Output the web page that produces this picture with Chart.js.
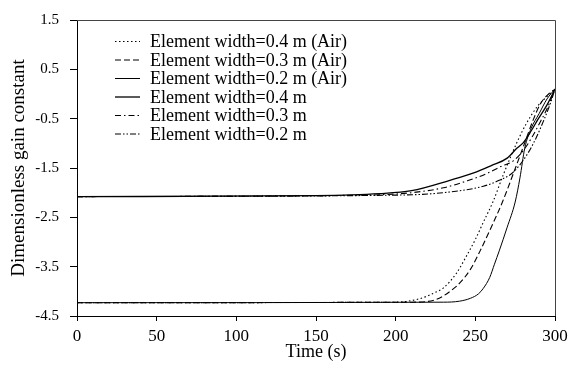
<!DOCTYPE html>
<html>
<head>
<meta charset="utf-8">
<script src="https://cdn.jsdelivr.net/npm/chart.js@4.4.0/dist/chart.umd.min.js"></script>
<style>
  html, body { margin: 0; padding: 0; background: #fff; }
  #wrap { width: 577px; height: 369px; }
</style>
</head>
<body>
<div id="wrap"><canvas id="gainChart" width="577" height="369"></canvas></div>
<script>
Chart.defaults.color = '#000';
Chart.defaults.font.family = '"Liberation Serif", "Times New Roman", serif';
Chart.defaults.font.size = 15;

const xTicks = [0, 50, 100, 150, 200, 250, 300];
const yTicks = [1.5, 0.5, -0.5, -1.5, -2.5, -3.5, -4.5];

const labels = [
    'Element width=0.4 m (Air)',
    'Element width=0.3 m (Air)',
    'Element width=0.2 m (Air)',
    'Element width=0.4 m',
    'Element width=0.3 m',
    'Element width=0.2 m'
];

// 0.4 m (Air) - dotted
const tAir04 = [0, 200, 215, 225, 230, 238, 245, 250, 255, 261, 268, 276, 282, 289, 295, 300];
const vAir04 = [-4.23, -4.22, -4.15, -4.02, -3.93, -3.64, -3.25, -2.95, -2.6, -2.19, -1.6, -0.99, -0.6, -0.25, -0.05, 0.1];

// 0.3 m (Air) - dashed
const tAir03 = [0, 210, 225, 235, 240, 247, 253, 260, 267, 274, 281, 286, 291, 296, 300];
const vAir03 = [-4.23, -4.22, -4.17, -3.98, -3.84, -3.55, -3.18, -2.7, -2.19, -1.6, -0.99, -0.55, -0.19, 0.0, 0.1];

// 0.2 m (Air) - solid
const tAir02 = [0, 230, 240, 247, 252, 255, 259, 262, 265, 270, 275, 278, 281, 285, 290, 295, 300];
const vAir02 = [-4.23, -4.22, -4.2, -4.14, -4.05, -3.94, -3.72, -3.45, -3.18, -2.7, -2.19, -1.7, -1.1, -0.7, -0.4, -0.1, 0.1];

// 0.4 m - solid
const t04 = [0, 150, 190, 210, 234, 249, 260, 270, 276, 280, 285, 289, 295, 300];
const v04 = [-2.08, -2.06, -2.02, -1.96, -1.75, -1.6, -1.45, -1.3, -1.1, -0.99, -0.75, -0.53, -0.22, 0.1];

// 0.3 m - dash-dot
const t03 = [0, 180, 210, 230, 245, 258, 266, 274, 280, 286, 291, 295, 300];
const v03 = [-2.08, -2.05, -2.0, -1.9, -1.76, -1.6, -1.47, -1.35, -1.15, -0.85, -0.55, -0.3, 0.1];

// 0.2 m - dash-dot-dot
const t02 = [0, 200, 230, 255, 265, 274, 283, 288, 293, 297, 300];
const v02 = [-2.08, -2.05, -2.0, -1.87, -1.75, -1.58, -1.2, -0.9, -0.53, -0.2, 0.1];

const toPoints = (ts, vs) => ts.map((t, i) => ({ x: t, y: vs[i] }));

const series = [
    { data: toPoints(tAir04, vAir04), dash: [1.5, 2.5], width: 1.1 },
    { data: toPoints(tAir03, vAir03), dash: [6, 3], width: 1.1 },
    { data: toPoints(tAir02, vAir02), dash: [], width: 1 },
    { data: toPoints(t04, v04), dash: [], width: 1.3 },
    { data: toPoints(t03, v03), dash: [6, 3, 1.5, 3], width: 1.1 },
    { data: toPoints(t02, v02), dash: [6, 2, 1.5, 2, 1.5, 2], width: 1.1 }
];

// legend drawn inside the plot, plus the top/right frame
const frameAndLegend = {
    id: 'frameAndLegend',
    afterDraw(chart) {
        const { ctx, chartArea: a } = chart;
        ctx.save();
        ctx.strokeStyle = '#444';
        ctx.lineWidth = 1;
        ctx.beginPath();
        ctx.moveTo(a.left, a.top + 0.5);
        ctx.lineTo(a.right + 0.5, a.top + 0.5);
        ctx.lineTo(a.right + 0.5, a.bottom);
        ctx.stroke();

        ctx.font = '18px "Liberation Serif", "Times New Roman", serif';
        ctx.textBaseline = 'middle';
        ctx.fillStyle = '#000';
        chart.data.datasets.forEach((ds, i) => {
            const y = 41.5 + i * 18.5;
            ctx.strokeStyle = '#000';
            ctx.lineWidth = ds.borderWidth;
            ctx.setLineDash(ds.borderDash);
            ctx.beginPath();
            ctx.moveTo(115, y);
            ctx.lineTo(140, y);
            ctx.stroke();
            ctx.setLineDash([]);
            ctx.fillText(ds.label, 150, y + 1);
        });
        ctx.restore();
    }
};

new Chart(document.getElementById('gainChart'), {
    type: 'line',
    data: {
        datasets: series.map((s, i) => ({
            label: labels[i],
            data: s.data,
            borderColor: '#000',
            borderWidth: s.width,
            borderDash: s.dash,
            pointRadius: 0,
            fill: false,
            cubicInterpolationMode: 'monotone'
        }))
    },
    options: {
        responsive: false,
        animation: false,
        layout: { padding: { left: 8, right: 22, top: 15, bottom: 0 } },
        plugins: {
            legend: { display: false },
            tooltip: { enabled: false }
        },
        scales: {
            x: {
                type: 'linear',
                min: xTicks[0],
                max: xTicks[xTicks.length - 1],
                afterBuildTicks: s => { s.ticks = xTicks.map(v => ({ value: v })); },
                afterFit: s => { s.height = 53; },
                border: { color: '#000', width: 1 },
                grid: { drawOnChartArea: false, tickLength: 5, color: '#000' },
                ticks: { padding: 5, font: { size: 17 } },
                title: { display: true, text: 'Time (s)', font: { size: 18 }, padding: { top: 0, bottom: 6 } }
            },
            y: {
                type: 'linear',
                min: yTicks[yTicks.length - 1],
                max: yTicks[0],
                afterBuildTicks: s => { s.ticks = yTicks.map(v => ({ value: v })); },
                afterFit: s => { s.width = 69; },
                border: { color: '#000', width: 1 },
                grid: { drawOnChartArea: false, tickLength: 7, color: '#000' },
                ticks: { padding: 11, font: { size: 15 }, callback: v => v.toFixed(1) },
                title: { display: true, text: 'Dimensionless gain constant', font: { size: 19 }, padding: { top: 0, bottom: 0 } }
            }
        }
    },
    plugins: [frameAndLegend]
});
</script>
</body>
</html>
